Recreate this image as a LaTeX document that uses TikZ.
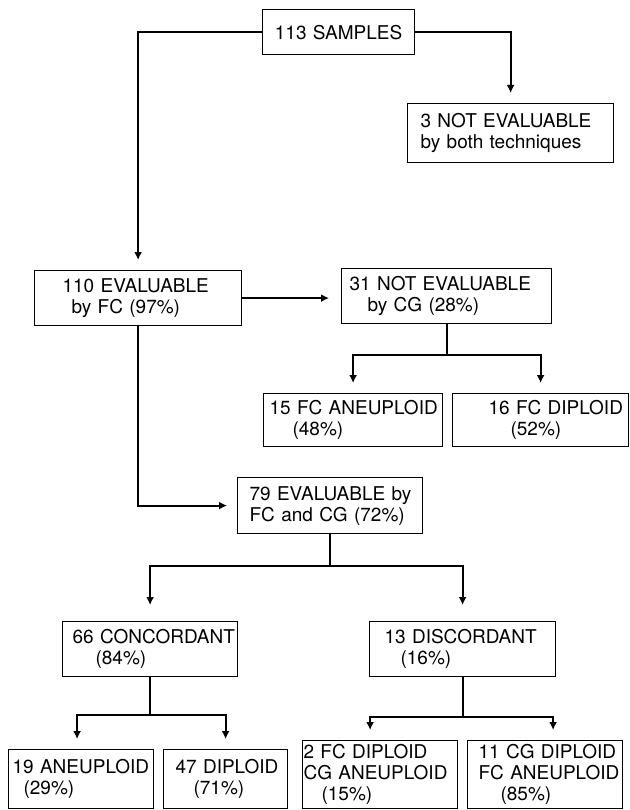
\documentclass[tikz,border=0pt]{standalone}
\usepackage{fontspec}
\setmainfont{TeX Gyre Heros}
\usepackage{tikz}
\usetikzlibrary{arrows.meta,positioning}
\tikzset{
  flow-box/.style={draw=black, line width=1.2pt, anchor=north west, align=left,
    inner xsep=0pt, inner ysep=0pt, font=\fontsize{19}{21}\selectfont},
  flow-link/.style={draw=black, line width=1.8pt},
  flow-arrow/.style={flow-link, -{Latex[length=8pt,width=8pt]}, shorten >=10pt}
}

\begin{document}
\begin{tikzpicture}[x=1pt, y=-1pt]
  \useasboundingbox (0,0) rectangle (629,810);

  % Boxes, top to bottom
  \node[flow-box, align=center, text width=152pt, minimum height=45pt] (samples) at (262,9)
    {113 SAMPLES};
  \node[flow-box, text width=206pt, minimum height=59pt] (notboth) at (407,103)
    {\hspace*{13pt}3~NOT~EVALUABLE\\\hspace*{13pt}by~both~techniques};
  \node[flow-box, text width=207pt, minimum height=55pt] (evalfc) at (34,270)
    {\hspace*{28pt}110~EVALUABLE\\\hspace*{37pt}by~FC~(97\%)};
  \node[flow-box, text width=210pt, minimum height=55pt] (notcg) at (341,268)
    {\hspace*{8pt}31~NOT~EVALUABLE\\\hspace*{26pt}by~CG~(28\%)};
  \node[flow-box, text width=179pt, minimum height=53pt] (fcaneu) at (263,393)
    {\hspace*{6pt}15~FC~ANEUPLOID\\\hspace*{29pt}(48\%)};
  \node[flow-box, text width=176pt, minimum height=53pt] (fcdip) at (452,393)
    {\hspace*{36pt}16~FC~DIPLOID\\\hspace*{58pt}(52\%)};
  \node[flow-box, text width=185pt, minimum height=56pt] (evalboth) at (237,477)
    {\hspace*{12pt}79~EVALUABLE~by\\\hspace*{12pt}FC~and~CG~(72\%)};
  \node[flow-box, text width=175pt, minimum height=55pt] (conc) at (62,621)
    {\hspace*{10pt}66~CONCORDANT\\\hspace*{33pt}(84\%)};
  \node[flow-box, text width=186pt, minimum height=55pt] (disc) at (369,621)
    {\hspace*{15pt}13~DISCORDANT\\\hspace*{31pt}(16\%)};
  \node[flow-box, text width=145pt, minimum height=59pt] (aneu) at (8,749)
    {\hspace*{4pt}19~ANEUPLOID\\\hspace*{15pt}(29\%)};
  \node[flow-box, text width=124pt, minimum height=59pt] (dip) at (163,749)
    {\hspace*{12pt}47~DIPLOID\\\hspace*{30pt}(71\%)};
  \node[flow-box, text width=155pt, minimum height=68pt] (fcdipcg) at (302,740)
    {\hspace*{1pt}2~FC~DIPLOID\\\hspace*{1pt}CG~ANEUPLOID\\\hspace*{19pt}(15\%)};
  \node[flow-box, text width=155pt, minimum height=68pt] (cgdipfc) at (467,740)
    {\hspace*{11pt}11~CG~DIPLOID\\\hspace*{11pt}FC~ANEUPLOID\\\hspace*{33pt}(85\%)};

  % Connectors
  \draw[flow-arrow] (samples.west) -| (evalfc.north);
  \draw[flow-arrow] (samples.east) -| (notboth.north);
  \draw[flow-arrow, shorten >=12pt] (evalfc.east) -- (evalfc.east -| notcg.west);
  \draw[flow-arrow] (evalfc.south) |- (evalboth.west);

  \path (notcg.south) ++(0,31) coordinate (cgsplit);
  \draw[flow-link] (notcg.south) -- (cgsplit);
  \draw[flow-arrow] (cgsplit) -| (fcaneu.north);
  \draw[flow-arrow] (cgsplit) -| (fcdip.north);

  \path (evalboth.south) ++(0,32) coordinate (bothsplit);
  \draw[flow-link] (evalboth.south) -- (bothsplit);
  \draw[flow-arrow, shorten >=16pt] (bothsplit) -| (conc.north);
  \draw[flow-arrow, shorten >=16pt] (bothsplit) -| (disc.north);

  \path (conc.south) ++(0,38) coordinate (concsplit);
  \draw[flow-link] (conc.south) -- (concsplit);
  \draw[flow-arrow] (concsplit) -| ([xshift=-4pt]aneu.north);
  \draw[flow-arrow] (concsplit) -| (dip.north);

  \path (disc.south) ++(0,40) coordinate (discsplit);
  \draw[flow-link] (disc.south) -- (discsplit);
  \draw[flow-arrow] (discsplit) -| ([xshift=-10pt]fcdipcg.north);
  \draw[flow-arrow] (discsplit) -| ([xshift=8pt]cgdipfc.north);
\end{tikzpicture}
\end{document}
